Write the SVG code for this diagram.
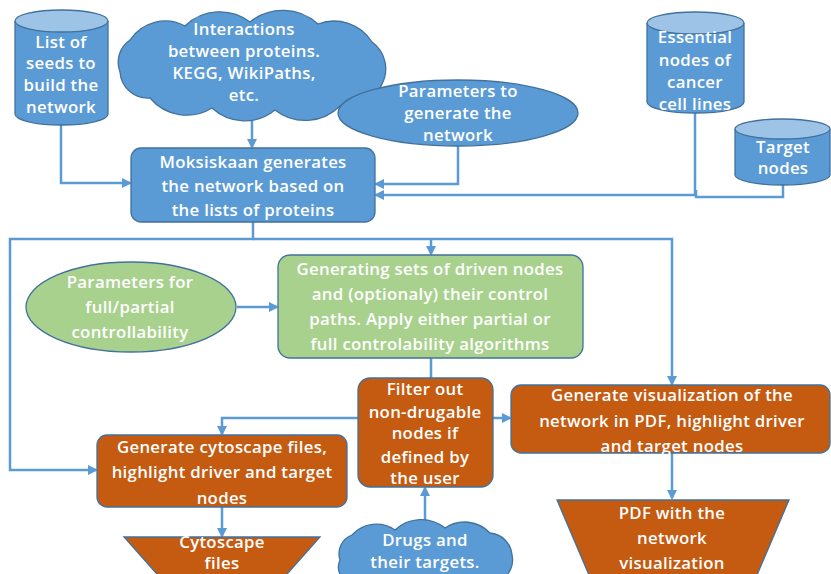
<svg xmlns="http://www.w3.org/2000/svg" width="831" height="574" viewBox="0 0 831 574">
<style>
.blue{fill:#5B9BD5;stroke:#41719C;stroke-width:1.3}
.top{fill:#9DC3E6;stroke:#41719C;stroke-width:1.3}
.orange{fill:#C55A11;stroke:#41719C;stroke-width:1.3}
.green{fill:#A9D18E;stroke:#41719C;stroke-width:1.3}
.t{font-family:"Open Sans","Liberation Sans",sans-serif;font-weight:600;font-size:16.8px;letter-spacing:0.3px;fill:#fff;text-anchor:middle}
.c{fill:none;stroke:#5B9BD5;stroke-width:2.5}
.a{marker-end:url(#arr)}
</style>
<defs>
<marker id="arr" viewBox="0 0 10 10" refX="8" refY="5" markerWidth="4" markerHeight="4" orient="auto" markerUnits="strokeWidth">
<path d="M0,0 L10,5 L0,10 z" fill="#5B9BD5"/>
</marker>
</defs>
<g id="connectors">
<path class="c a" d="M61,125 V183 H130"/>
<path class="c a" d="M252,120 V147"/>
<path class="c a" d="M458,146 V184 H376"/>
<path class="c a" d="M695,113 V195 H376"/>
<path class="c" d="M783,185 V197 H696 V190"/>
<path class="c a" d="M253,222 V239 H10 V470 H96"/>
<path class="c a" d="M253,239 H672 V384"/>
<path class="c a" d="M431,239 V254"/>
<path class="c a" d="M237,307 H277"/>
<path class="c" d="M431,358 V378"/>
<path class="c a" d="M358,418 H222 V434"/>
<path class="c a" d="M493,418 H510"/>
<path class="c a" d="M222,507 V536"/>
<path class="c a" d="M425,525 V488"/>
<path class="c a" d="M672,453 V498"/>
</g>
<g id="seeds">
<path class="blue" d="M15,21 V114 A46.5,11 0 0 0 108,114 V21"/>
<ellipse class="top" cx="61.5" cy="21" rx="46.5" ry="11"/>
<text class="t" x="61" y="48">List of</text>
<text class="t" x="61" y="69">seeds to</text>
<text class="t" x="61" y="91">build the</text>
<text class="t" x="61" y="113">network</text>
</g>
<g id="interactions">
<path class="blue" d="M120,72 A27,27 0 0 1 130,40 A42,42 0 0 1 185,26 A50,50 0 0 1 250,22 A52,52 0 0 1 318,24 A45,45 0 0 1 372,42 A33,33 0 0 1 382,84 A36,36 0 0 1 340,106 A49,49 0 0 1 275,110 A48,48 0 0 1 212,108 A48,48 0 0 1 150,98 A28,28 0 0 1 120,72 Z"/>
<text class="t" x="244" y="35">Interactions</text>
<text class="t" x="244" y="57">between proteins.</text>
<text class="t" x="244" y="79">KEGG, WikiPaths,</text>
<text class="t" x="244" y="101">etc.</text>
</g>
<g id="params">
<ellipse class="blue" cx="458" cy="113" rx="120" ry="33"/>
<text class="t" x="458" y="97">Parameters to</text>
<text class="t" x="458" y="119">generate the</text>
<text class="t" x="458" y="141">network</text>
</g>
<g id="essential">
<path class="blue" d="M647,23 V102 A48.5,11 0 0 0 744,102 V23"/>
<ellipse class="top" cx="695.5" cy="23" rx="48.5" ry="11"/>
<text class="t" x="695" y="43">Essential</text>
<text class="t" x="695" y="66">nodes of</text>
<text class="t" x="695" y="88">cancer</text>
<text class="t" x="695" y="110">cell lines</text>
</g>
<g id="target">
<path class="blue" d="M735,129 V175 A47.5,10 0 0 0 830,175 V129"/>
<ellipse class="top" cx="782.5" cy="129" rx="47.5" ry="10"/>
<text class="t" x="783" y="153">Target</text>
<text class="t" x="783" y="174">nodes</text>
</g>
<g id="moksiskaan">
<rect class="blue" x="131" y="148" width="244" height="74" rx="10"/>
<text class="t" x="253" y="168">Moksiskaan generates</text>
<text class="t" x="253" y="192">the network based on</text>
<text class="t" x="253" y="216">the lists of proteins</text>
</g>
<g id="ctrlparams">
<ellipse class="green" cx="131" cy="307" rx="105" ry="45"/>
<text class="t" x="130" y="288">Parameters for</text>
<text class="t" x="130" y="313">full/partial</text>
<text class="t" x="130" y="338">controllability</text>
</g>
<g id="generating">
<rect class="green" x="278" y="255" width="305" height="103" rx="12"/>
<text class="t" x="430" y="275">Generating sets of driven nodes</text>
<text class="t" x="430" y="300">and (optionaly) their control</text>
<text class="t" x="430" y="325">paths. Apply either partial or</text>
<text class="t" x="430" y="350">full controlability algorithms</text>
</g>
<g id="filter">
<rect class="orange" x="358" y="378" width="135" height="109" rx="12"/>
<text class="t" x="425" y="395">Filter out</text>
<text class="t" x="425" y="418">non-drugable</text>
<text class="t" x="425" y="439">nodes if</text>
<text class="t" x="425" y="463">defined by</text>
<text class="t" x="425" y="484">the user</text>
</g>
<g id="visualization">
<rect class="orange" x="511" y="385" width="319" height="68" rx="10"/>
<text class="t" x="672" y="401">Generate visualization of the</text>
<text class="t" x="672" y="427">network in PDF, highlight driver</text>
<text class="t" x="672" y="452">and target nodes</text>
</g>
<g id="cytoscape">
<rect class="orange" x="97" y="435" width="250" height="72" rx="10"/>
<text class="t" x="222" y="453">Generate cytoscape files,</text>
<text class="t" x="222" y="478">highlight driver and target</text>
<text class="t" x="222" y="504">nodes</text>
</g>
<g id="cytofiles">
<polygon class="orange" points="124,537 320,537 280,582 164,582"/>
<text class="t" x="222" y="548">Cytoscape</text>
<text class="t" x="222" y="569">files</text>
</g>
<g id="drugs">
<path class="blue" d="M340,560 A20,20 0 0 1 352,535 A33,33 0 0 1 395,530 A38,38 0 0 1 445,528 A35,35 0 0 1 490,533 A24,24 0 0 1 512,555 A22,22 0 0 1 500,580 A46,46 0 0 1 440,590 A45,45 0 0 1 380,588 A27,27 0 0 1 345,580 A16,16 0 0 1 340,560 Z"/>
<text class="t" x="425" y="546">Drugs and</text>
<text class="t" x="425" y="568">their targets.</text>
</g>
<g id="pdf">
<polygon class="orange" points="557,500 789,500 754,582 592,582"/>
<text class="t" x="672" y="519">PDF with the</text>
<text class="t" x="672" y="544">network</text>
<text class="t" x="672" y="569">visualization</text>
</g>
</svg>
